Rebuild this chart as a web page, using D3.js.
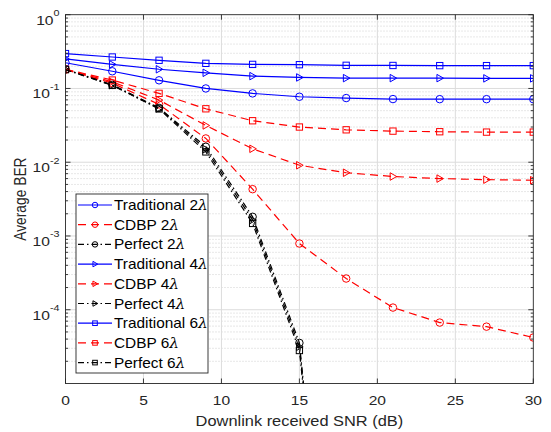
<!DOCTYPE html>
<html>
<head>
<meta charset="utf-8">
<script src="https://cdn.jsdelivr.net/npm/d3@7"></script>
<style>
  html, body { margin: 0; padding: 0; background: #fff; }
  text { font-family: "Liberation Sans", Arial, Helvetica, sans-serif; fill: #262626; }
</style>
</head>
<body>
<div id="chart"></div>
<script>
// SNR points (dB)
var snr = [0, 3, 6, 9, 12, 15, 18, 21, 24, 27, 30];

// Average BER
var trad2 = [0.223, 0.171, 0.129, 0.100, 0.0857, 0.0772, 0.0741, 0.0718, 0.0716, 0.0716, 0.0715];
var trad4 = [0.252, 0.212, 0.182, 0.163, 0.147, 0.141, 0.138, 0.138, 0.138, 0.137, 0.137];
var trad6 = [0.297, 0.267, 0.241, 0.219, 0.212, 0.210, 0.206, 0.205, 0.204, 0.204, 0.204];
var cdbp2 = [0.180, 0.118, 0.0608, 0.0210, 0.00431, 7.9e-4, 2.65e-4, 1.07e-4, 6.7e-5, 5.9e-5, 4.2e-5];
var cdbp4 = [0.181, 0.123, 0.0696, 0.0315, 0.0152, 0.0091, 0.0072, 0.0064, 0.0060, 0.0058, 0.0057];
var cdbp6 = [0.182, 0.130, 0.0858, 0.0530, 0.0365, 0.0300, 0.0275, 0.0264, 0.0259, 0.0256, 0.0256];
// perfect curves drop off below the axis after 15 dB
var perfect2 = [0.182, 0.112, 0.0545, 0.0162, 1.82e-3, 3.55e-5, 2e-11];
var perfect4 = [0.181, 0.111, 0.0537, 0.0150, 1.65e-3, 3.15e-5, 2e-11];
var perfect6 = [0.180, 0.110, 0.0528, 0.0138, 1.48e-3, 2.8e-5, 2e-11];

var xTicks = [0, 5, 10, 15, 20, 25, 30];
var yTickExps = [0, -1, -2, -3, -4];

// legend labels, the lambda is drawn in italics
var legendNames = ["Traditional 2", "CDBP 2", "Perfect 2",
                   "Traditional 4", "CDBP 4", "Perfect 4",
                   "Traditional 6", "CDBP 6", "Perfect 6"];

var SOLID = null, DASH = "8,5", DASHDOT = "6,3,1.5,3";
var series = [
    { vals: trad2, color: "#0000ff", dash: SOLID, marker: "circle" },
    { vals: cdbp2, color: "#ff0000", dash: DASH, marker: "circle" },
    { vals: perfect2, color: "#000000", dash: DASHDOT, marker: "circle" },
    { vals: trad4, color: "#0000ff", dash: SOLID, marker: "triangle" },
    { vals: cdbp4, color: "#ff0000", dash: DASH, marker: "triangle" },
    { vals: perfect4, color: "#000000", dash: DASHDOT, marker: "triangle" },
    { vals: trad6, color: "#0000ff", dash: SOLID, marker: "square" },
    { vals: cdbp6, color: "#ff0000", dash: DASH, marker: "square" },
    { vals: perfect6, color: "#000000", dash: DASHDOT, marker: "square" }
];

var W = 551, H = 432;
var SX = 1.2;  // the picture is stretched sideways a little
var plot = { left: 65.5, right: 533.3, top: 14.7, bottom: 383.5 };

var x = d3.scaleLinear().domain([0, 30]).range([plot.left, plot.right]);
var y = d3.scaleLog().domain([1e-5, 1]).range([plot.bottom, plot.top]);

var svg = d3.select("#chart").append("svg")
    .attr("width", W)
    .attr("height", H);

svg.append("defs").append("clipPath")
    .attr("id", "clip")
    .append("rect")
    .attr("x", plot.left)
    .attr("y", plot.top)
    .attr("width", plot.right - plot.left)
    .attr("height", plot.bottom - plot.top);

// Minor grid (dotted) on log axis
var minorVals = [];
for (var e = -5; e < 0; e++) {
    for (var m = 2; m <= 9; m++) minorVals.push(m * Math.pow(10, e));
}
svg.append("g").selectAll("line").data(minorVals).enter().append("line")
    .attr("x1", plot.left).attr("x2", plot.right)
    .attr("y1", d => y(d)).attr("y2", d => y(d))
    .style("stroke", "#c4c4c4")
    .style("stroke-width", 0.8)
    .style("stroke-dasharray", "1,2");

// Major grid
svg.append("g").selectAll("line").data(yTickExps.slice(1)).enter().append("line")
    .attr("x1", plot.left).attr("x2", plot.right)
    .attr("y1", d => y(Math.pow(10, d))).attr("y2", d => y(Math.pow(10, d)))
    .style("stroke", "#dcdcdc")
    .style("stroke-width", 1);
svg.append("g").selectAll("line").data(xTicks.slice(1, -1)).enter().append("line")
    .attr("x1", d => x(d)).attr("x2", d => x(d))
    .attr("y1", plot.top).attr("y2", plot.bottom)
    .style("stroke", "#dcdcdc")
    .style("stroke-width", 1);

// Marker shapes
function drawMarker(g, type, cx, cy, size, color) {
    var s = size;
    if (type === "circle") {
        g.append("circle").attr("cx", cx).attr("cy", cy).attr("r", s / 2);
    } else if (type === "square") {
        g.append("rect").attr("x", cx - s * 0.42).attr("y", cy - s * 0.42)
            .attr("width", s * 0.84).attr("height", s * 0.84);
    } else {
        var h = s / 2;
        g.append("path").attr("d", `M${cx - h * 0.75},${cy - h}L${cx + h},${cy}L${cx - h * 0.75},${cy + h}Z`);
    }
    g.selectAll("*")
        .style("fill", "none")
        .style("stroke", color)
        .style("stroke-width", 1);
}

// Data lines
var dataG = svg.append("g").attr("clip-path", "url(#clip)");
var line = d3.line().x((d, i) => x(snr[i])).y(d => y(d));

series.forEach(function(s) {
    dataG.append("path")
        .datum(s.vals)
        .attr("d", line)
        .style("fill", "none")
        .style("stroke", s.color)
        .style("stroke-width", 1.2)
        .style("stroke-dasharray", s.dash);
    s.vals.forEach(function(v, i) {
        var mg = dataG.append("g");
        drawMarker(mg, s.marker, x(snr[i]), y(v), 7.5, s.color);
    });
});

// Axes box and ticks (inside, MATLAB style)
var axisColor = "#262626";
svg.append("rect")
    .attr("x", plot.left).attr("y", plot.top)
    .attr("width", plot.right - plot.left).attr("height", plot.bottom - plot.top)
    .style("fill", "none")
    .style("stroke", axisColor)
    .style("stroke-width", 0.9);

var ticksG = svg.append("g").style("stroke", axisColor).style("stroke-width", 0.9);
xTicks.forEach(function(t) {
    ticksG.append("line").attr("x1", x(t)).attr("x2", x(t)).attr("y1", plot.bottom).attr("y2", plot.bottom - 5);
    ticksG.append("line").attr("x1", x(t)).attr("x2", x(t)).attr("y1", plot.top).attr("y2", plot.top + 5);
});
yTickExps.forEach(function(e) {
    var yy = y(Math.pow(10, e));
    ticksG.append("line").attr("x1", plot.left).attr("x2", plot.left + 5).attr("y1", yy).attr("y2", yy);
    ticksG.append("line").attr("x1", plot.right).attr("x2", plot.right - 5).attr("y1", yy).attr("y2", yy);
});
minorVals.forEach(function(v) {
    var yy = y(v);
    ticksG.append("line").attr("x1", plot.left).attr("x2", plot.left + 2.5).attr("y1", yy).attr("y2", yy);
    ticksG.append("line").attr("x1", plot.right).attr("x2", plot.right - 2.5).attr("y1", yy).attr("y2", yy);
});

// Tick labels
svg.append("g").selectAll("text").data(xTicks).enter().append("text")
    .attr("transform", d => `translate(${x(d)},405) scale(${SX},1)`)
    .attr("text-anchor", "middle")
    .style("font-size", "13px")
    .text(d => d);

var yLab = svg.append("g").selectAll("text").data(yTickExps).enter().append("text")
    .attr("transform", d => `translate(59.5,${y(Math.pow(10, d)) + 10}) scale(${SX},1)`)
    .attr("text-anchor", "end")
    .style("font-size", "13px");
yLab.append("tspan").text("10");
yLab.append("tspan")
    .attr("dy", -8.5)
    .style("font-size", "9px")
    .text(d => d === 0 ? "0" : "-" + (-d));

// Axis labels
svg.append("text")
    .attr("transform", `translate(${(plot.left + plot.right) / 2},425.5) scale(1.13,1)`)
    .attr("text-anchor", "middle")
    .style("font-size", "14.5px")
    .text("Downlink received SNR (dB)");

svg.append("text")
    .attr("transform", `translate(25.5,${(plot.top + plot.bottom) / 2}) scale(${SX},1) rotate(-90)`)
    .attr("text-anchor", "middle")
    .style("font-size", "13.8px")
    .text("Average BER");

// Legend
var lg = svg.append("g");
lg.append("rect")
    .attr("x", 76).attr("y", 194)
    .attr("width", 132).attr("height", 179)
    .style("fill", "#fff")
    .style("stroke", axisColor)
    .style("stroke-width", 0.9);

series.forEach(function(s, i) {
    var ly = 205 + i * 19.7;
    lg.append("line")
        .attr("x1", 78).attr("x2", 112)
        .attr("y1", ly).attr("y2", ly)
        .style("stroke", s.color)
        .style("stroke-width", 1.2)
        .style("stroke-dasharray", s.dash);
    drawMarker(lg.append("g"), s.marker, 95, ly, 5.5, s.color);
    var t = lg.append("text")
        .attr("transform", `translate(114,${ly + 5}) scale(1.1,1)`)
        .style("font-size", "14px")
        .style("fill", "#000");
    t.append("tspan").text(legendNames[i]);
    t.append("tspan")
        .style("font-family", "'DejaVu Serif', 'Liberation Serif', serif")
        .style("font-style", "italic")
        .text("\u03bb");
});
</script>
</body>
</html>
